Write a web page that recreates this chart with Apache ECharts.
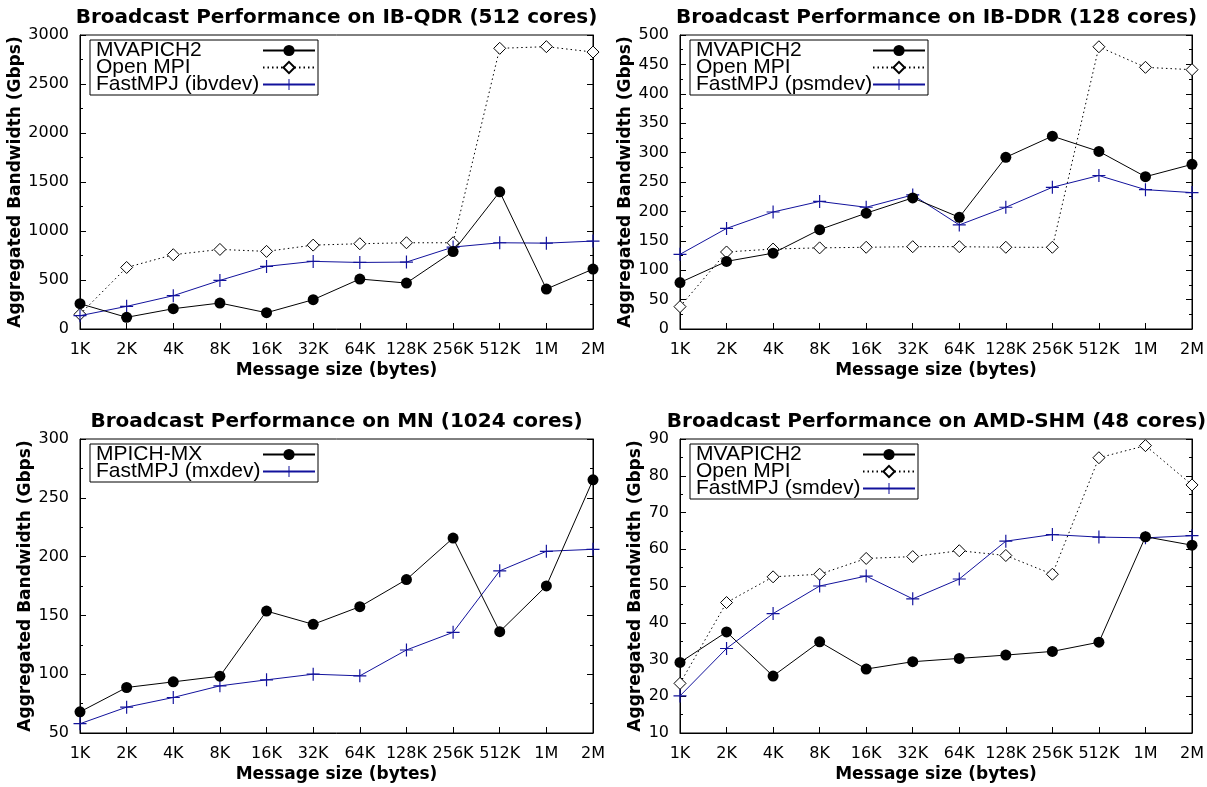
<!DOCTYPE html>
<html>
<head>
<meta charset="utf-8">
<script src="https://cdn.jsdelivr.net/npm/echarts@6/dist/echarts.min.js"></script>
<style>
html,body{margin:0;padding:0;background:#fff;}
#chart{width:1207px;height:787px;}
</style>
</head>
<body>
<div id="chart"></div>
<script>
// ---- data ----
const categories = ['1K','2K','4K','8K','16K','32K','64K','128K','256K','512K','1M','2M'];

const titles = [
  'Broadcast Performance on IB-QDR (512 cores)',
  'Broadcast Performance on IB-DDR (128 cores)',
  'Broadcast Performance on MN (1024 cores)',
  'Broadcast Performance on AMD-SHM (48 cores)'
];

// IB-QDR (512 cores)
const qdrMvapich = [258,119,207,265,166,299,510,469,790,1400,408,611];
const qdrOpenmpi = [150,628,758,812,792,856,870,880,880,2864,2881,2826];
const qdrFastmpj = [136,231,340,496,639,690,679,683,836,880,876,897];

// IB-DDR (128 cores)
const ddrMvapich = [79,115,129,169,197,223,190,292,328,302,259,280];
const ddrOpenmpi = [38,131,136,138,139,140,140,139,139,480,445,441];
const ddrFastmpj = [127,171,199,217,207,228,177,207,241,261,237,232];

// MN (1024 cores)
const mnMpichmx = [68,88.7,93.5,98.3,153.7,142.4,157.4,180.5,215.8,136.2,175.1,265.3];
const mnFastmpj = [57.9,72,80.2,90.1,95.2,100,98.6,120.6,135.6,187.9,204.5,206.2];

// AMD-SHM (48 cores)
const amdMvapich = [29.2,37.5,25.5,34.8,27.4,29.4,30.3,31.2,32.2,34.7,63.4,61.1];
const amdOpenmpi = [23.5,45.5,52.5,53.2,57.5,58,59.6,58.3,53.2,84.9,88.2,77.5];
const amdFastmpj = [20.1,33,42.5,50,52.7,46.5,51.9,62.2,64,63.3,63.1,63.7];

// y ranges [min, max, interval]
const yRanges = [[0,3000,500],[0,500,50],[50,300,50],[10,90,10]];

// ---- styles ----
const BLUE = '#12129c';
const TICK_FONT = 'DejaVu Sans';
const PLUS = 'path://M-0.09,-1L0.09,-1L0.09,-0.09L1,-0.09L1,0.09L0.09,0.09L0.09,1L-0.09,1L-0.09,0.09L-1,0.09L-1,-0.09L-0.09,-0.09Z';

const grids = [
  {left:80, top:35, width:513, height:294},
  {left:680, top:35, width:513, height:294},
  {left:80, top:439, width:513, height:294},
  {left:680, top:439, width:513, height:294}
];
const yNameGaps = [54, 44, 44, 36];

function styleOf(kind){
  if(kind==='mv') return {symbol:'circle', symbolSize:11, itemStyle:{color:'#000'}, lineStyle:{color:'#000', width:1}};
  if(kind==='om') return {symbol:'diamond', symbolSize:12, itemStyle:{color:'#fff', borderColor:'#000', borderWidth:1}, lineStyle:{color:'#000', width:1, type:[1.5,3]}};
  return {symbol:PLUS, symbolSize:13, itemStyle:{color:BLUE}, lineStyle:{color:BLUE, width:1}};
}

const panelSeries = [
  [['MVAPICH2', qdrMvapich,'mv'],['Open MPI', qdrOpenmpi,'om'],['FastMPJ (ibvdev)', qdrFastmpj,'fm']],
  [['MVAPICH2', ddrMvapich,'mv'],['Open MPI', ddrOpenmpi,'om'],['FastMPJ (psmdev)', ddrFastmpj,'fm']],
  [['MPICH-MX', mnMpichmx,'mv'],['FastMPJ (mxdev)', mnFastmpj,'fm']],
  [['MVAPICH2', amdMvapich,'mv'],['Open MPI', amdOpenmpi,'om'],['FastMPJ (smdev)', amdFastmpj,'fm']]
];

const legendPos = [
  {left:90, top:40, w:162},
  {left:690, top:40, w:172},
  {left:90, top:444, w:162},
  {left:690, top:444, w:162}
];

const LEG_FONT = {fontFamily:'Liberation Sans', fontSize:21, color:'#000'};

const option = {
  animation:false,
  backgroundColor:'#fff',
  title: titles.map((t,i)=>({
    text:t,
    left: grids[i].left + grids[i].width/2,
    top: grids[i].top - 27,
    textAlign:'center',
    padding:0,
    textStyle:{fontFamily:'DejaVu Sans', fontWeight:'bold', fontSize:20, color:'#000'}
  })),
  grid: grids.map(g=>Object.assign({show:true, borderColor:'#000', borderWidth:1, backgroundColor:'transparent'}, g)),
  legend: panelSeries.map((ps,i)=>({
    data: ps.map(s=>s[0]),
    orient:'vertical',
    align:'right',
    left: legendPos[i].left,
    top: legendPos[i].top,
    padding:[0,2,0,6],
    itemGap:-4,
    itemWidth:52,
    itemHeight:14,
    borderColor:'#000',
    borderWidth:1,
    selectedMode:false,
    formatter: name => '{t|' + name + '}',
    textStyle: Object.assign({}, LEG_FONT, {
      rich:{t:Object.assign({width:legendPos[i].w, align:'left'}, LEG_FONT)}
    })
  })),
  xAxis: grids.map((g,i)=>({
    type:'category',
    gridIndex:i,
    data:categories,
    boundaryGap:false,
    name:'Message size (bytes)',
    nameLocation:'middle',
    nameGap:33,
    nameTextStyle:{fontFamily:'DejaVu Sans', fontWeight:'bold', fontSize:17, color:'#000'},
    axisLine:{show:true, lineStyle:{color:'#000', width:1}},
    axisTick:{show:true, inside:true, length:6, interval:0, lineStyle:{color:'#000'}},
    axisLabel:{interval:0, margin:13, fontFamily:TICK_FONT, fontSize:16, color:'#000'},
    splitLine:{show:false}
  })),
  yAxis: [],
  series: []
};

grids.forEach((g,i)=>{
  const [mn,mx,iv] = yRanges[i];
  const base = {
    type:'value', gridIndex:i, min:mn, max:mx, interval:iv,
    splitLine:{show:false},
    axisLine:{show:true, lineStyle:{color:'#000', width:1}},
    axisTick:{show:true, inside:true, length:6, lineStyle:{color:'#000'}},
    minorTick:{show:true, splitNumber:2, length:3, lineStyle:{color:'#000'}},
    minorSplitLine:{show:false}
  };
  option.yAxis.push(Object.assign({}, base, {
    position:'left',
    name:'Aggregated Bandwidth (Gbps)',
    nameLocation:'middle',
    nameGap:yNameGaps[i],
    nameRotate:90,
    nameTextStyle:{fontFamily:'DejaVu Sans', fontWeight:'bold', fontSize:17, color:'#000'},
    axisLabel:{margin:11, fontFamily:TICK_FONT, fontSize:16, color:'#000', formatter:v=>String(v)}
  }));
  option.yAxis.push(Object.assign({}, base, {
    position:'right',
    axisLabel:{show:false}
  }));
});

panelSeries.forEach((ps,i)=>{
  ps.forEach(s=>{
    option.series.push(Object.assign({
      type:'line',
      name:s[0],
      xAxisIndex:i,
      yAxisIndex:i*2,
      data:s[1],
      showAllSymbol:true,
      clip:false,
      emphasis:{disabled:true},
      z: s[2]==='fm' ? 3 : (s[2]==='mv' ? 4 : 2)
    }, styleOf(s[2])));
  });
});

const chart = echarts.init(document.getElementById('chart'), null, {renderer:'canvas'});
chart.setOption(option);
</script>
</body>
</html>
